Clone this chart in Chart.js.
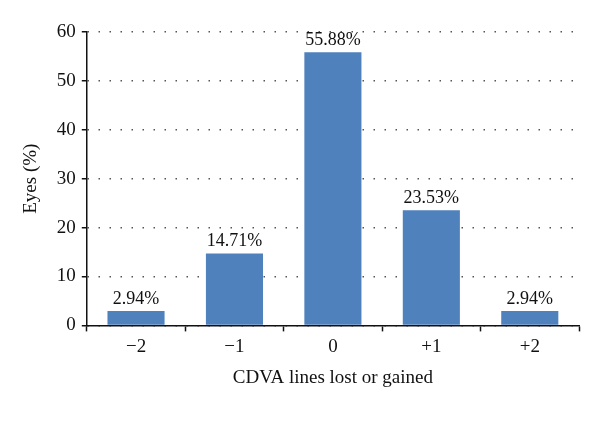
<!DOCTYPE html>
<html>
<head>
<meta charset="utf-8">
<script src="https://cdn.jsdelivr.net/npm/chart.js@4.4.1/dist/chart.umd.min.js"></script>
<style>
  html, body { margin: 0; padding: 0; background: #fff; }
  #wrap { width: 600px; height: 429px; }
</style>
</head>
<body>
<div id="wrap"><canvas id="eyesChart"></canvas></div>
<script>
// values
var categories = ['\u22122', '\u22121', '0', '+1', '+2'];
var eyesPct = [2.94, 14.71, 55.88, 23.53, 2.94];
var yTicks = [0, 10, 20, 30, 40, 50, 60];

var serif = '"Liberation Serif", "DejaVu Serif", serif';

// labels above each bar
var barLabels = {
    id: 'barLabels',
    afterDatasetsDraw: function(chart) {
        var ctx = chart.ctx;
        var meta = chart.getDatasetMeta(0);
        ctx.save();
        ctx.font = '18px ' + serif;
        ctx.fillStyle = '#111';
        ctx.textAlign = 'center';
        ctx.textBaseline = 'alphabetic';
        meta.data.forEach(function(bar, i) {
            ctx.fillText(eyesPct[i].toFixed(2) + '%', bar.x, bar.y - 7);
        });
        ctx.restore();
    }
};

var ctx = document.getElementById('eyesChart').getContext('2d');
var myChart = new Chart(ctx, {
    type: 'bar',
    data: {
        labels: categories,
        datasets: [{
            data: eyesPct,
            backgroundColor: '#4F81BD',
            borderWidth: 0,
            barPercentage: 0.58,
            categoryPercentage: 1
        }]
    },
    options: {
        responsive: true,
        maintainAspectRatio: false,
        animation: false,
        layout: { padding: { top: 32, right: 21, bottom: 36, left: 16 } },
        plugins: {
            legend: { display: false },
            tooltip: { enabled: false }
        },
        scales: {
            x: {
                grid: {
                    display: true,
                    drawOnChartArea: false,
                    drawTicks: true,
                    offset: true,
                    tickLength: 6,
                    tickColor: '#111',
                    tickWidth: 1.5
                },
                border: { display: true, color: '#111', width: 1.5 },
                ticks: {
                    color: '#111',
                    font: { family: serif, size: 19 },
                    padding: 4
                },
                title: {
                    display: true,
                    text: 'CDVA lines lost or gained',
                    color: '#111',
                    font: { family: serif, size: 19 },
                    padding: { top: 4 }
                }
            },
            y: {
                min: 0,
                max: 60,
                afterBuildTicks: function(axis) {
                    axis.ticks = yTicks.map(function(v) { return { value: v }; });
                },
                grid: {
                    color: '#555',
                    lineWidth: 1.5,
                    drawTicks: true,
                    tickLength: 5,
                    tickColor: '#111',
                    tickWidth: 1.5,
                    tickBorderDash: []
                },
                border: { display: true, color: '#111', width: 1.5, dash: [1.5, 9.5] },
                ticks: {
                    color: '#111',
                    font: { family: serif, size: 19 },
                    padding: 6
                },
                title: {
                    display: true,
                    text: 'Eyes (%)',
                    color: '#111',
                    font: { family: serif, size: 19 },
                    padding: { bottom: 8 }
                }
            }
        }
    },
    plugins: [barLabels]
});
</script>
</body>
</html>
